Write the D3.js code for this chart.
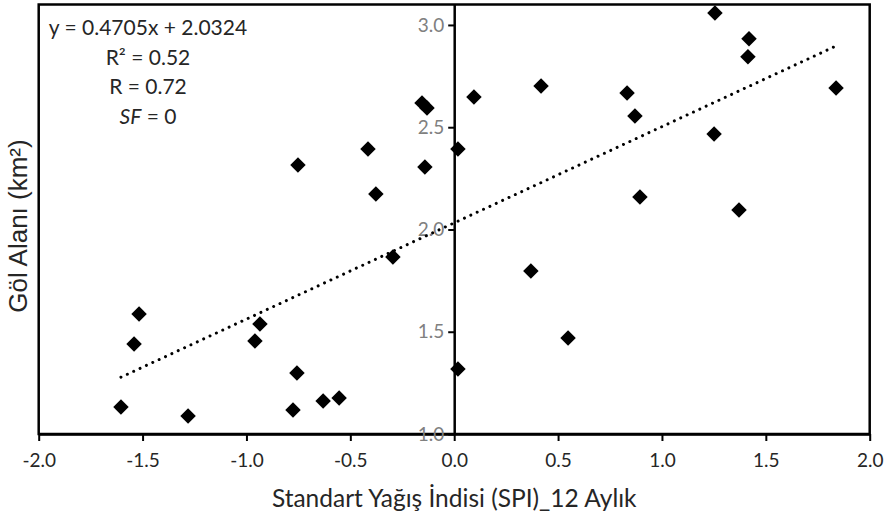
<html>
<head>
  <style>
	body{ margin:0; background:#fff }
	.chart text{ font-family: Lato, "Open Sans", sans-serif }
	.chart .ytick text{ fill:#808080; font-size:19px }
	.chart .xtick text{ fill:#262626; font-size:19px }
	.chart .title{ fill:#262626; font-size:24.5px }
	.chart .ytitle{ fill:#262626; font-size:26px; font-family:"Liberation Sans", Arial, sans-serif }
	.chart .eq{ fill:#262626; font-size:21px }
  </style>
</head>
<body>
<div id="chart"></div>
<script src="https://d3js.org/d3.v7.min.js"></script>
<script>
  // SPI (12 month) vs lake area
  var spi  = [-1.604, -1.281, -1.541, -1.517, -0.959, -0.935, -0.757, -0.776,
              -0.631, -0.554, -0.752, -0.415, -0.377, -0.295, -0.155, -0.131,
              -0.141,  0.018,  0.018,  0.095,  0.369,  0.418,  0.548,  0.832,
               0.870,  0.894,  1.255,  1.251,  1.419,  1.414,  1.371,  1.838];
  var area = [ 1.132,  1.088,  1.440,  1.587,  1.455,  1.538,  1.298,  1.117,
               1.161,  1.176,  2.315,  2.394,  2.174,  1.866,  2.619,  2.594,
               2.306,  2.394,  1.318,  2.648,  1.797,  2.702,  1.469,  2.667,
               2.555,  2.159,  3.059,  2.467,  2.932,  2.844,  2.095,  2.692];
  var xTicks = [-2.0, -1.5, -1.0, -0.5, 0.0, 0.5, 1.0, 1.5, 2.0];
  var yTicks = [1.0, 1.5, 2.0, 2.5, 3.0];
  var slope = 0.4705, intercept = 2.0324;
  var eqLines = ["y = 0.4705x + 2.0324", "R² = 0.52", "R = 0.72", "SF = 0"];

(function () {
  var
    width   = 888,
    height  = 522,
    pLeft   = 38.7,
    pRight  = 869.7,
    pTop    = 4.5,
    pBottom = 434;

  var fmt = function (d) { return d.toFixed(1); };   // plain hyphen minus like Excel

  var x = d3.scaleLinear().domain([-2, 2]).range([pLeft, pRight]);
  var y = d3.scaleLinear().domain([1, 3.1]).range([pBottom, pTop]);

  var svg = d3.select('#chart').append('svg')
    .attr('class', 'chart')
    .attr('width', width)
    .attr('height', height);

  svg.append('rect')                       // plot border
    .attr('x', pLeft)
    .attr('y', pTop)
    .attr('width', pRight - pLeft)
    .attr('height', pBottom - pTop)
    .attr('fill', 'none')
    .attr('stroke', '#000')
    .attr('stroke-width', 2.5);

  // x axis along bottom
  var xAxis = svg.append('g')
    .attr('class', 'xtick')
    .attr('transform', 'translate(0,' + pBottom + ')')
    .call(d3.axisBottom(x).tickValues(xTicks).tickFormat(fmt).tickSize(7).tickSizeOuter(0).tickPadding(13));
  xAxis.select('.domain').attr('stroke', '#000').attr('stroke-width', 2.5);
  xAxis.selectAll('.tick line').attr('stroke', '#000').attr('stroke-width', 2);

  // y axis through x = 0
  var yAxis = svg.append('g')
    .attr('class', 'ytick')
    .attr('transform', 'translate(' + x(0) + ',0)')
    .call(d3.axisLeft(y).tickValues(yTicks).tickFormat(fmt).tickSize(6).tickSizeOuter(0).tickPadding(4));
  yAxis.select('.domain').attr('stroke', '#000').attr('stroke-width', 2.5);
  yAxis.selectAll('.tick line').attr('stroke', '#000').attr('stroke-width', 2);

  // trend line
  var x0 = d3.min(spi), x1 = d3.max(spi);
  svg.append('line')
    .attr('x1', x(x0)).attr('y1', y(slope * x0 + intercept))
    .attr('x2', x(x1)).attr('y2', y(slope * x1 + intercept))
    .attr('stroke', '#000')
    .attr('stroke-width', 3)
    .attr('stroke-linecap', 'round')
    .attr('stroke-dasharray', '0.01 7');

  // points
  var diamond = d3.symbol().type(d3.symbolSquare).size(120);
  svg.append('g').selectAll('path')
    .data(spi)
    .join('path')
    .attr('d', diamond)
    .attr('transform', function (d, i) { return 'translate(' + x(d) + ',' + y(area[i]) + ') rotate(45)'; })
    .attr('fill', '#000');

  // equation text
  var eq = svg.append('text').attr('class', 'eq').attr('text-anchor', 'middle');
  eqLines.forEach(function (t, i) {
    var tsp = eq.append('tspan').attr('x', 148).attr('y', 35 + i * 29.5);
    if (t.indexOf('SF') === 0) {
      tsp.append('tspan').attr('font-style', 'italic').text('SF');
      tsp.append('tspan').text(' = 0');
    } else {
      tsp.text(t);
    }
  });

  // axis titles
  svg.append('text')
    .attr('class', 'title')
    .attr('x', x(0))
    .attr('y', 507)
    .attr('text-anchor', 'middle')
    .text('Standart Yağış İndisi (SPI)_12 Aylık');

  svg.append('text')
    .attr('class', 'ytitle')
    .attr('transform', 'translate(27,' + 226 + ') rotate(-90)')
    .attr('text-anchor', 'middle')
    .text('Göl Alanı (km²)');
})();
</script>
</body>
</html>
